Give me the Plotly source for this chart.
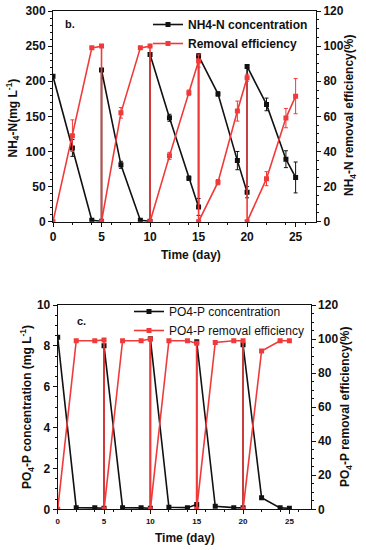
import plotly.graph_objects as go

# ---- Panel b: NH4-N ----
nh4_days = [0, 2, 4, 5, 5, 7, 9, 10, 10, 12, 14, 15, 15, 17, 19, 20, 20, 22, 24, 25]
nh4_conc = [207, 105, 2, 0.5, 216, 81, 2, 0.5, 238, 148, 62, 21, 236, 182, 87, 42, 221, 167, 89, 63]
nh4_err = [0, 12, 1, 0, 2, 5, 1, 0, 2, 5, 3, 12, 3, 3, 13, 8, 2, 9, 12, 22]
nh4_rem = [0, 49, 99, 100, 0, 62, 99, 100, 0, 37.5, 73.5, 91.5, 0, 22.5, 63, 82, 0, 24.5, 59, 71.5]
nh4_rem_err = [0, 9, 0, 0, 0, 3, 0, 0, 0, 2, 1.5, 3.5, 0, 1.5, 5.7, 2, 0, 4, 5.5, 10]

# ---- Panel c: PO4-P ----
po4_days = [0, 2, 4, 5, 5, 7, 9, 10, 10, 12, 14, 15, 15, 17, 19, 20, 20, 22, 24, 25]
po4_conc = [8.42, 0.08, 0.07, 0.05, 8.0, 0.08, 0.07, 0.05, 8.35, 0.1, 0.08, 0.24, 8.2, 0.15, 0.08, 0.07, 8.05, 0.57, 0.07, 0.05]
po4_rem = [0, 99, 99, 99.5, 0, 99, 99, 100, 0, 99, 99, 97.5, 0, 98, 99, 99, 0, 93, 99, 99]

x_ticks = [0, 5, 10, 15, 20, 25]

BLACK = "#111111"
RED = "#f03a3a"
FONT = "Liberation Sans, Arial, sans-serif"

fig = go.Figure()

fig.add_trace(go.Scatter(
    x=nh4_days, y=nh4_conc, name="<b>NH4-N concentration</b>", mode="lines+markers",
    line=dict(color=BLACK, width=1.6), marker=dict(symbol="square", size=5, color=BLACK),
    error_y=dict(type="data", array=nh4_err, color=BLACK, thickness=1, width=2),
    xaxis="x", yaxis="y", legend="legend"))
fig.add_trace(go.Scatter(
    x=nh4_days, y=nh4_rem, name="<b>Removal efficiency</b>", mode="lines+markers",
    line=dict(color=RED, width=1.6), marker=dict(symbol="square", size=5, color=RED),
    error_y=dict(type="data", array=nh4_rem_err, color=RED, thickness=1, width=2),
    xaxis="x", yaxis="y2", legend="legend"))

fig.add_trace(go.Scatter(
    x=po4_days, y=po4_conc, name="PO4-P concentration", mode="lines+markers",
    line=dict(color=BLACK, width=1.6), marker=dict(symbol="square", size=5, color=BLACK),
    xaxis="x2", yaxis="y3", legend="legend2"))
fig.add_trace(go.Scatter(
    x=po4_days, y=po4_rem, name="PO4-P removal efficiency", mode="lines+markers",
    line=dict(color=RED, width=1.6), marker=dict(symbol="square", size=5, color=RED),
    xaxis="x2", yaxis="y4", legend="legend2"))

W, H = 366, 550
def fx(px):
    return px / W
def fy(py):
    return 1 - py / H

axis_common = dict(showgrid=False, zeroline=False, showline=True, linecolor=BLACK, linewidth=1,
                   ticks="outside", ticklen=4, tickcolor=BLACK, automargin=False,
                   minor=dict(ticks="outside", ticklen=2, tickcolor=BLACK))

tick_font = dict(family=FONT, size=12, color=BLACK, weight="bold")

fig.update_layout(
    width=W, height=H, margin=dict(l=0, r=0, t=0, b=0, autoexpand=False),
    paper_bgcolor="white", plot_bgcolor="white",
    font=dict(family=FONT, color=BLACK),
    xaxis=dict(domain=[fx(53), fx(316)], anchor="y", range=[0, 27.1], tickvals=x_ticks,
               tickfont=tick_font, mirror=True, **axis_common),
    yaxis=dict(domain=[fy(221.7), fy(11)], anchor="x", range=[0, 300], dtick=50,
               tickfont=tick_font, **axis_common),
    yaxis2=dict(overlaying="y", side="right", anchor="x", range=[0, 120], dtick=20,
                tickfont=tick_font, **axis_common),
    xaxis2=dict(domain=[fx(57.7), fx(310.7)], anchor="y3", range=[0, 27.3], tickvals=x_ticks,
                tickfont=dict(family=FONT, size=8, color=BLACK, weight="bold"),
                mirror=True, **axis_common),
    yaxis3=dict(domain=[fy(509.3), fy(305)], anchor="x2", range=[0, 10], dtick=2,
                tickfont=tick_font, **axis_common),
    yaxis4=dict(overlaying="y3", side="right", anchor="x2", range=[0, 120], dtick=20,
                tickfont=tick_font, **axis_common),
    legend=dict(x=fx(313), y=fy(10), xanchor="right", yanchor="top", bgcolor="rgba(0,0,0,0)",
                font=dict(family=FONT, size=12, color=BLACK), tracegroupgap=0, itemwidth=30),
    legend2=dict(x=fx(309), y=fy(297), xanchor="right", yanchor="top", bgcolor="rgba(0,0,0,0)",
                 font=dict(family=FONT, size=12, color=BLACK), tracegroupgap=0, itemwidth=30),
    showlegend=True,
)

def ann(text, x, y, angle=0, size=12, anchor="center"):
    fig.add_annotation(text=text, x=fx(x), y=fy(y), xref="paper", yref="paper",
                       showarrow=False, textangle=angle, xanchor=anchor, yanchor="middle",
                       font=dict(family=FONT, size=size, color=BLACK))

ann("<b>b.</b>", 63, 24, size=11, anchor="left")
ann("<b>c.</b>", 75, 321, size=11, anchor="left")
ann("<b>Time (day)</b>", 191, 255)
ann("<b>Time (day)</b>", 185, 538)
ann("<b>NH<sub>4</sub>-N(mg L<sup>-1</sup>)</b>", 12.5, 118, angle=-90)
ann("<b>NH<sub>4</sub>-N removal efficiency(%)</b>", 350, 116, angle=-90)
ann("<b>PO<sub>4</sub>-P concentration (mg L<sup>-1</sup>)</b>", 27, 407, angle=-90)
ann("<b>PO<sub>4</sub>-P removal efficiency(%)</b>", 346, 407, angle=-90)

fig.write_html("out.html", config={"displayModeBar": False},
               post_script="document.body.style.margin='0px';")
